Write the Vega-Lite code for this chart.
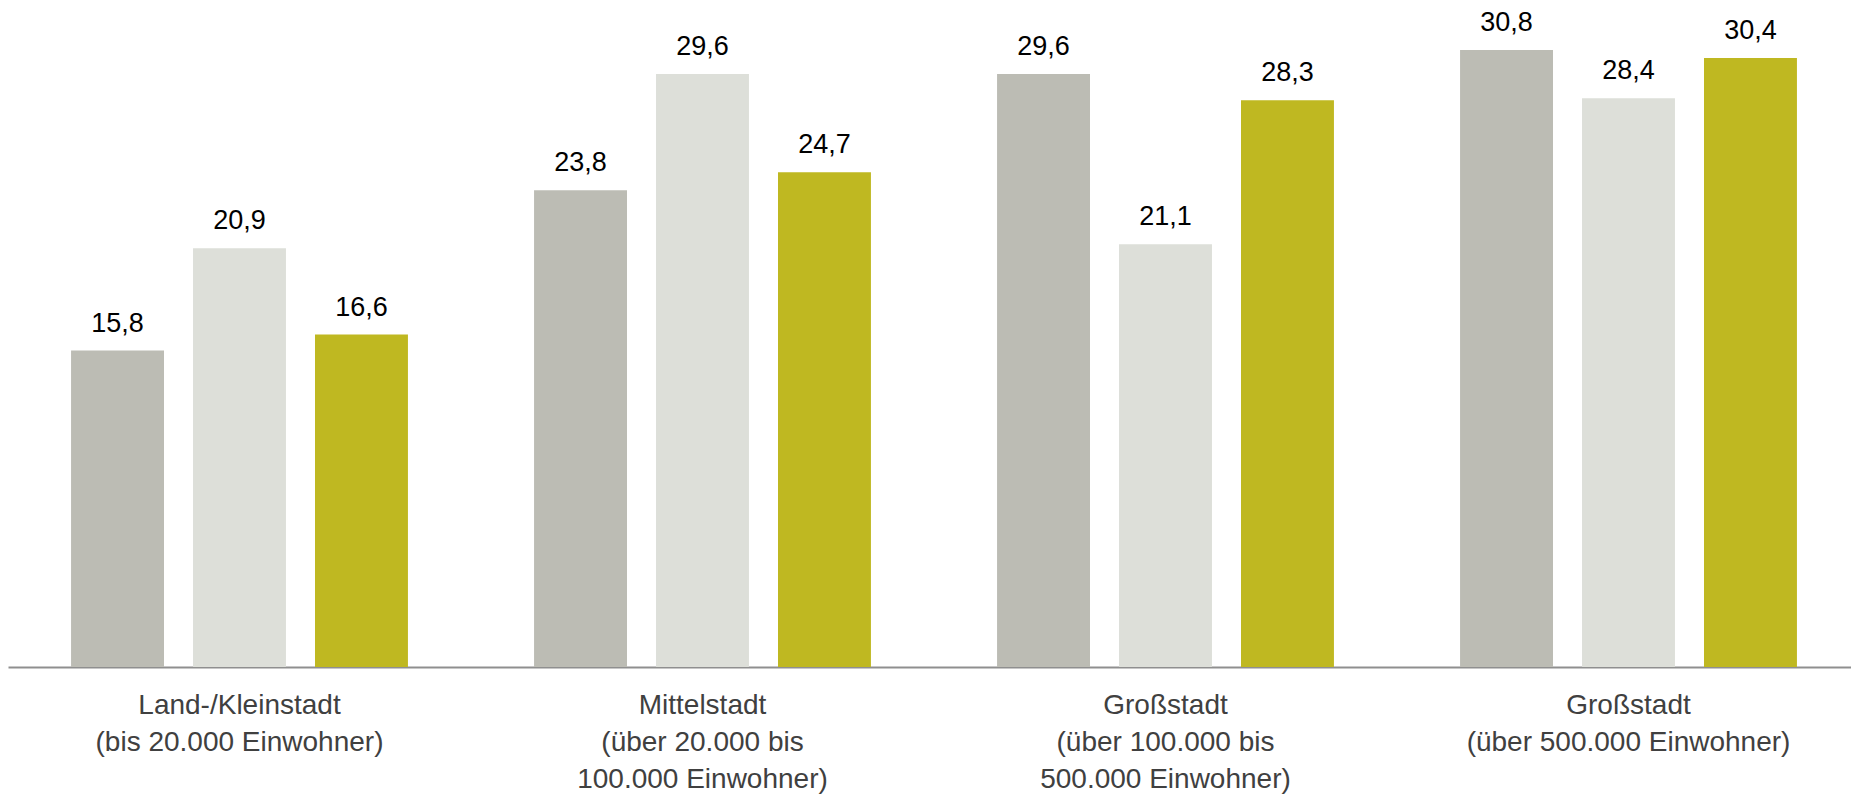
{
  "$schema": "https://vega.github.io/schema/vega-lite/v6.json",
  "width": 1843,
  "height": 667,
  "autosize": {"type": "none"},
  "padding": {"left": 8, "top": 0, "right": 0, "bottom": 127},
  "background": "white",
  "config": {
    "view": {"stroke": null},
    "font": "Liberation Sans",
    "locale": {"number": {"decimal": ",", "thousands": ".", "grouping": [3], "currency": ["", " €"]}}
  },
  "data": {
    "values": [
      {"gruppe": "Land-/Kleinstadt|(bis 20.000 Einwohner)", "reihe": "Reihe 1", "wert": 15.8},
      {"gruppe": "Land-/Kleinstadt|(bis 20.000 Einwohner)", "reihe": "Reihe 2", "wert": 20.9},
      {"gruppe": "Land-/Kleinstadt|(bis 20.000 Einwohner)", "reihe": "Reihe 3", "wert": 16.6},
      {"gruppe": "Mittelstadt|(über 20.000 bis|100.000 Einwohner)", "reihe": "Reihe 1", "wert": 23.8},
      {"gruppe": "Mittelstadt|(über 20.000 bis|100.000 Einwohner)", "reihe": "Reihe 2", "wert": 29.6},
      {"gruppe": "Mittelstadt|(über 20.000 bis|100.000 Einwohner)", "reihe": "Reihe 3", "wert": 24.7},
      {"gruppe": "Großstadt|(über 100.000 bis|500.000 Einwohner)", "reihe": "Reihe 1", "wert": 29.6},
      {"gruppe": "Großstadt|(über 100.000 bis|500.000 Einwohner)", "reihe": "Reihe 2", "wert": 21.1},
      {"gruppe": "Großstadt|(über 100.000 bis|500.000 Einwohner)", "reihe": "Reihe 3", "wert": 28.3},
      {"gruppe": "Großstadt|(über 500.000 Einwohner)", "reihe": "Reihe 1", "wert": 30.8},
      {"gruppe": "Großstadt|(über 500.000 Einwohner)", "reihe": "Reihe 2", "wert": 28.4},
      {"gruppe": "Großstadt|(über 500.000 Einwohner)", "reihe": "Reihe 3", "wert": 30.4}
    ]
  },
  "encoding": {
    "x": {
      "field": "gruppe",
      "type": "nominal",
      "sort": null,
      "scale": {"range": [0, 1852], "paddingInner": 0, "paddingOuter": 0},
      "axis": {
        "title": null,
        "domainColor": "#8f8f8f",
        "domainWidth": 2,
        "ticks": false,
        "grid": false,
        "labelAngle": 0,
        "labelFont": "Liberation Sans",
        "labelFontSize": 28,
        "labelColor": "#404040",
        "labelPadding": 24,
        "labelLineHeight": 37,
        "labelBaseline": "top",
        "labelLimit": 0,
        "labelOverlap": false,
        "labelExpr": "split(datum.label, '|')"
      }
    },
    "xOffset": {
      "field": "reihe",
      "type": "nominal",
      "sort": null,
      "scale": {"paddingInner": 0.238, "paddingOuter": 0.517}
    },
    "y": {
      "field": "wert",
      "type": "quantitative",
      "scale": {"domain": [0, 33.3], "nice": false, "zero": true},
      "axis": null
    }
  },
  "layer": [
    {
      "mark": {"type": "bar"},
      "encoding": {
        "color": {
          "field": "reihe",
          "type": "nominal",
          "sort": null,
          "scale": {"domain": ["Reihe 1", "Reihe 2", "Reihe 3"], "range": ["#bcbcb4", "#dddfd9", "#bfb821"]},
          "legend": null
        }
      }
    },
    {
      "mark": {"type": "text", "baseline": "alphabetic", "dy": -19, "fontSize": 27, "color": "#000000", "font": "Liberation Sans"},
      "encoding": {
        "text": {"field": "wert", "type": "quantitative", "format": ".1f"}
      }
    }
  ]
}
